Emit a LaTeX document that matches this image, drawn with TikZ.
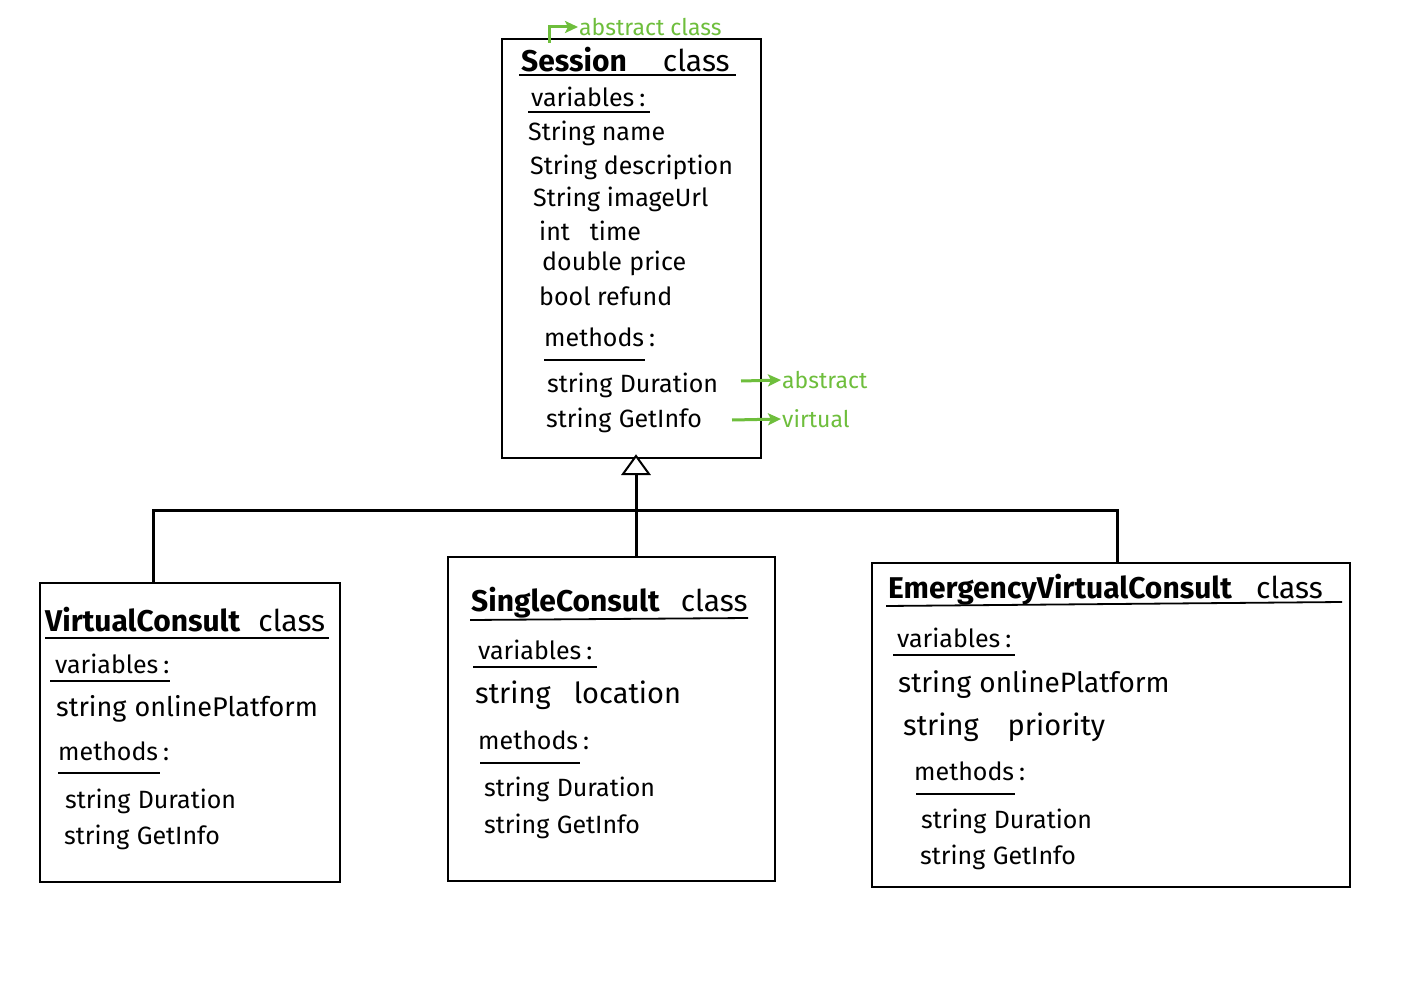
\documentclass[tikz,border=0pt]{standalone}
\usepackage{fontspec}
\setmainfont{Fira Sans}
\usetikzlibrary{arrows.meta}
\definecolor{gr}{RGB}{110,190,60}
\tikzset{
  box/.style={draw=black,line width=2pt},
  conn/.style={draw=black,line width=3pt},
  ttl/.style={anchor=west,inner sep=0pt,font=\fontsize{30}{32}\selectfont},
  txt/.style={anchor=west,inner sep=0pt,font=\fontsize{25}{27}\selectfont},
  big/.style={anchor=west,inner sep=0pt,font=\fontsize{29}{31}\selectfont},
  ul/.style={draw=black,line width=1.8pt},
  gtxt/.style={anchor=west,inner sep=0pt,text=gr,font=\fontsize{23}{25}\selectfont},
  garr/.style={draw=gr,line width=3pt,-{Stealth[length=13pt,width=12pt,inset=3pt]},shorten >=1pt}
}
\begin{document}
\begin{tikzpicture}[x=1pt,y=-1pt]
\useasboundingbox[fill=white] (0,0) rectangle (1426,1000);
% boxes
\node[box,minimum width=259pt,minimum height=419pt,inner sep=0pt,anchor=north west] (session) at (501,38) {};
\node[box,minimum width=300pt,minimum height=299pt,inner sep=0pt,anchor=north west] (vc) at (39,582) {};
\node[box,minimum width=327pt,minimum height=324pt,inner sep=0pt,anchor=north west] (sc) at (447,556) {};
\node[box,minimum width=478pt,minimum height=324pt,inner sep=0pt,anchor=north west] (evc) at (871,562) {};
% inheritance
\coordinate (tribase) at (636,474);
\coordinate (jn) at (636,510);
\coordinate (jl) at (153,510);
\coordinate (jr) at (1117,510);
\draw[conn] (sc.north -| tribase) -- (tribase);
\draw[conn,line cap=rect] (jl) -- (jr);
\draw[conn] (jl) -- (vc.north -| jl);
\draw[conn] (jr) -- (evc.north -| jr);
\draw[line width=2pt,fill=white] (623,474) -- (636,456) -- (649,474) -- cycle;
% Session
\node[ttl] (s1) at (521,60) {\textbf{Session}\hspace{1.2em}class};
\draw[ul] (519,75) -- (736,75);
\node[txt] (s2) at (531,97) {variables\hspace{0.2em}:};
\draw[ul] (528,112) -- (650,112);
\node[txt] (s3) at (528,133) {String name};
\node[txt] (s4) at (530,167) {String description};
\node[txt] (s5) at (533,199) {String imageUrl};
\node[txt] (s6) at (539,231) {int\hspace{0.8em}time};
\node[txt] (s7) at (542,263) {double\hspace{0.3em}price};
\node[txt] (s8) at (539,296) {bool refund};
\node[txt] (s9) at (544,337) {methods\hspace{0.2em}:};
\draw[ul] (544,360) -- (645,360);
\node[txt] (s10) at (547,385) {string\hspace{0.3em}Duration};
\node[txt] (s11) at (546,420) {string\hspace{0.3em}GetInfo};
% green notes
\node[gtxt] (g1) at (579,27) {abstract class};
\coordinate (g1s) at (549,43);
\draw[garr] (g1s) |- (g1.west);
\node[gtxt] (g2) at (782,380) {abstract};
\node[gtxt] (g3) at (782,419) {virtual};
\coordinate (a1) at (741,381);
\coordinate (a2) at (732,420);
\draw[garr] (a1) -- (g2.west);
\draw[garr] (a2) -- (g3.west);
% VirtualConsult
\node[ttl] (v1) at (45,620) {\textbf{VirtualConsult}\hspace{0.6em}class};
\draw[ul] (45,638) -- (329,638);
\node[txt] (v2) at (55,664) {variables\hspace{0.2em}:};
\draw[ul] (50,681) -- (170,681);
\node[big,font=\fontsize{27}{29}\selectfont] (v3) at (56,709) {string\hspace{0.3em}onlinePlatform};
\node[txt] (v4) at (58,751) {methods\hspace{0.2em}:};
\draw[ul] (58,773) -- (160,773);
\node[txt] (v5) at (65,801) {string\hspace{0.3em}Duration};
\node[txt] (v6) at (64,837) {string\hspace{0.3em}GetInfo};
% SingleConsult
\node[ttl] (c1) at (471,603) {\textbf{SingleConsult}\hspace{0.7em}class};
\draw[ul] (470,620) -- (748,618);
\node[txt] (c2) at (478,650) {variables\hspace{0.2em}:};
\draw[ul] (473,667) -- (597,667);
\node[big] (c3) at (475,695) {string\hspace{0.8em}location};
\node[txt] (c4) at (478,740) {methods\hspace{0.2em}:};
\draw[ul] (480,763) -- (580,763);
\node[txt] (c5) at (484,789) {string\hspace{0.3em}Duration};
\node[txt] (c6) at (484,826) {string\hspace{0.3em}GetInfo};
% EmergencyVirtualConsult
\node[ttl] (e1) at (888,590) {\textbf{EmergencyVirtualConsult}\hspace{0.8em}class};
\draw[ul] (886,606) -- (1342,602);
\node[txt] (e2) at (897,638) {variables\hspace{0.2em}:};
\draw[ul] (893,655) -- (1015,655);
\node[big,font=\fontsize{28}{30}\selectfont] (e3) at (898,685) {string\hspace{0.3em}onlinePlatform};
\node[big] (e4) at (903,727) {string\hspace{1em}priority};
\node[txt] (e5) at (914,771) {methods\hspace{0.2em}:};
\draw[ul] (916,794) -- (1015,794);
\node[txt] (e6) at (921,821) {string\hspace{0.3em}Duration};
\node[txt] (e7) at (920,857) {string\hspace{0.3em}GetInfo};
\end{tikzpicture}
\end{document}
